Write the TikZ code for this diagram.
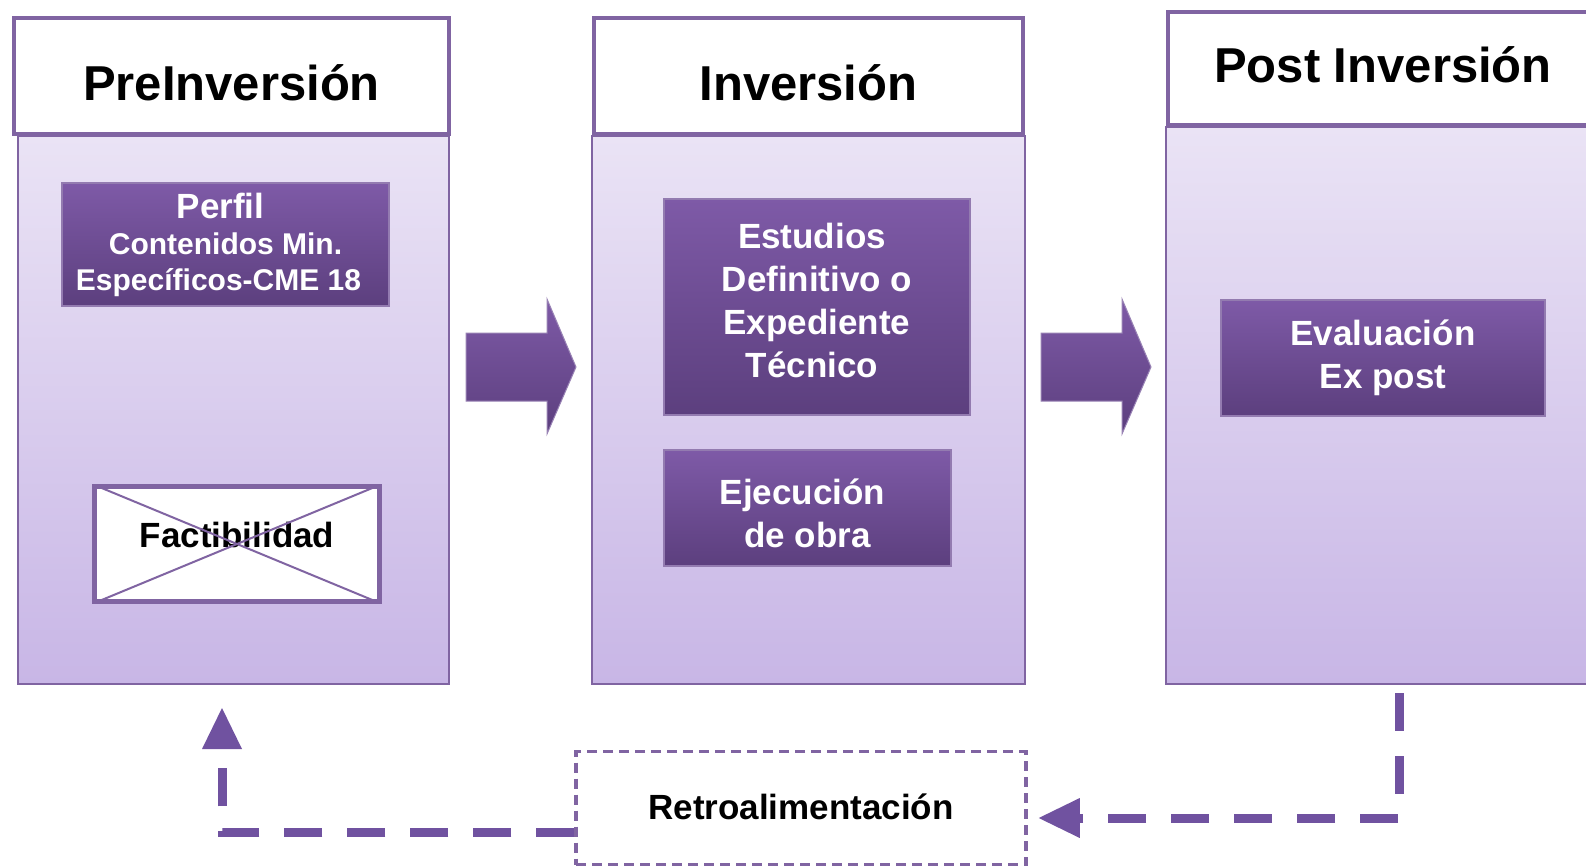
\documentclass[tikz,border=0pt]{standalone}
\usepackage{fontspec}
\setmainfont{Liberation Sans}
\usetikzlibrary{arrows.meta}
\definecolor{lila}{HTML}{8064A2}
\definecolor{lilatop}{HTML}{EAE3F5}
\definecolor{lilabot}{HTML}{C8B6E6}
\definecolor{cajatop}{HTML}{7E5AA7}
\definecolor{cajabot}{HTML}{5C3F7E}
\definecolor{flecha}{HTML}{7052A0}

\begin{document}
\begin{tikzpicture}[x = 1pt, y = -1pt,
    cuerpo/.style = {draw = lila, line width = 2pt, top color = lilatop, bottom color = lilabot, inner sep = 0pt},
    cabeza/.style = {draw = lila, line width = 4.5pt, fill = white, inner sep = 0pt, font = \fontsize{49}{55}\selectfont\bfseries},
    caja/.style = {draw = lila!85!white, line width = 2pt, top color = cajatop, bottom color = cajabot, text = white, align = center, inner sep = 0pt, font = \fontsize{35}{43}\selectfont\bfseries},
    flechota/.style = {draw = lila!80!white, line width = 1pt, top color = cajatop, bottom color = cajabot},
    retro/.style = {draw = flecha, line width = 9pt, dash pattern = on 38pt off 25pt, -{Triangle[length = 41pt, width = 40pt, line width = 0pt]}}]
\useasboundingbox (0,0) rectangle (1586,866);
\fill[white] (0,0) rectangle (1586,866);

\path
    (233.5,410) node[cuerpo, minimum width = 431pt, minimum height = 548pt](b1){}
    (808.5,410) node[cuerpo, minimum width = 433pt, minimum height = 548pt](b2){}
    (1383,405.5) node[cuerpo, minimum width = 434pt, minimum height = 557pt](b3){};
\path
    (231.5,76) node[cabeza, minimum width = 435pt, minimum height = 116pt, text height = 49pt](h1){PreInversión}
    (808.5,76) node[cabeza, minimum width = 429pt, minimum height = 116pt, text height = 49pt](h2){Inversión}
    (1383,68.5) node[cabeza, minimum width = 430pt, minimum height = 113pt, text depth = 8pt](h3){Post Inversión};

\path
    (225.5,244.5) node[caja, minimum width = 327pt, minimum height = 123pt, font = \fontsize{30}{36}\selectfont\bfseries](perfil){{\fontsize{35}{36}\selectfont Perfil}\hspace*{10pt}\\ Contenidos Min.\hspace*{14pt}\\ Específicos-CME 18\hspace*{14pt}}
    (237,544) node[draw = lila, line width = 5pt, fill = white, inner sep = 0pt, minimum width = 285pt, minimum height = 115pt, text depth = 18pt, font = \fontsize{35}{43}\selectfont\bfseries](fact){Factibilidad}
    (817,307) node[caja, minimum width = 306pt, minimum height = 216pt, text depth = 14pt](estudios){Estudios\hspace*{10pt}\\ Definitivo o\hspace*{10pt}\\ Expediente\hspace*{10pt}\\ Técnico\hspace*{10pt}}
    (807.5,508) node[caja, minimum width = 287pt, minimum height = 116pt](ejec){\rule{0pt}{37pt}Ejecución\hspace*{10pt}\\ de obra}
    (1383,358) node[caja, minimum width = 324pt, minimum height = 116pt](eval){Evaluación\\ Ex post};
\draw[lila, line width = 2pt, shorten <= 3pt, shorten >= 3pt] (fact.north west) -- (fact.south east);
\draw[lila, line width = 2pt, shorten <= 3pt, shorten >= 3pt] (fact.south west) -- (fact.north east);

% flechas grandes
\shade[flechota] (466,333) -- ++(81,0) -- ++(0,-34) -- ++(29,68) -- ++(-29,67) -- ++(0,-33) -- ++(-81,0) -- cycle;
\shade[flechota] (1041,333) -- ++(81,0) -- ++(0,-34) -- ++(29,68) -- ++(-29,67) -- ++(0,-33) -- ++(-81,0) -- cycle;

\path (801,808) node[draw = lila, line width = 3.5pt, dash pattern = on 10pt off 6pt, minimum width = 450pt, minimum height = 113pt, text depth = 2pt, font = \fontsize{35}{43}\selectfont\bfseries](rt){Retroalimentación};

\draw[retro, shorten <= 8pt, shorten >= 11pt] ([xshift = 16pt]b3.south) |- ([yshift = -10pt]rt.east);
\draw[retro, shorten >= 23pt] ([yshift = -24pt]rt.west) -| ([xshift = -11.5pt]b1.south);

\end{tikzpicture}
\end{document}
